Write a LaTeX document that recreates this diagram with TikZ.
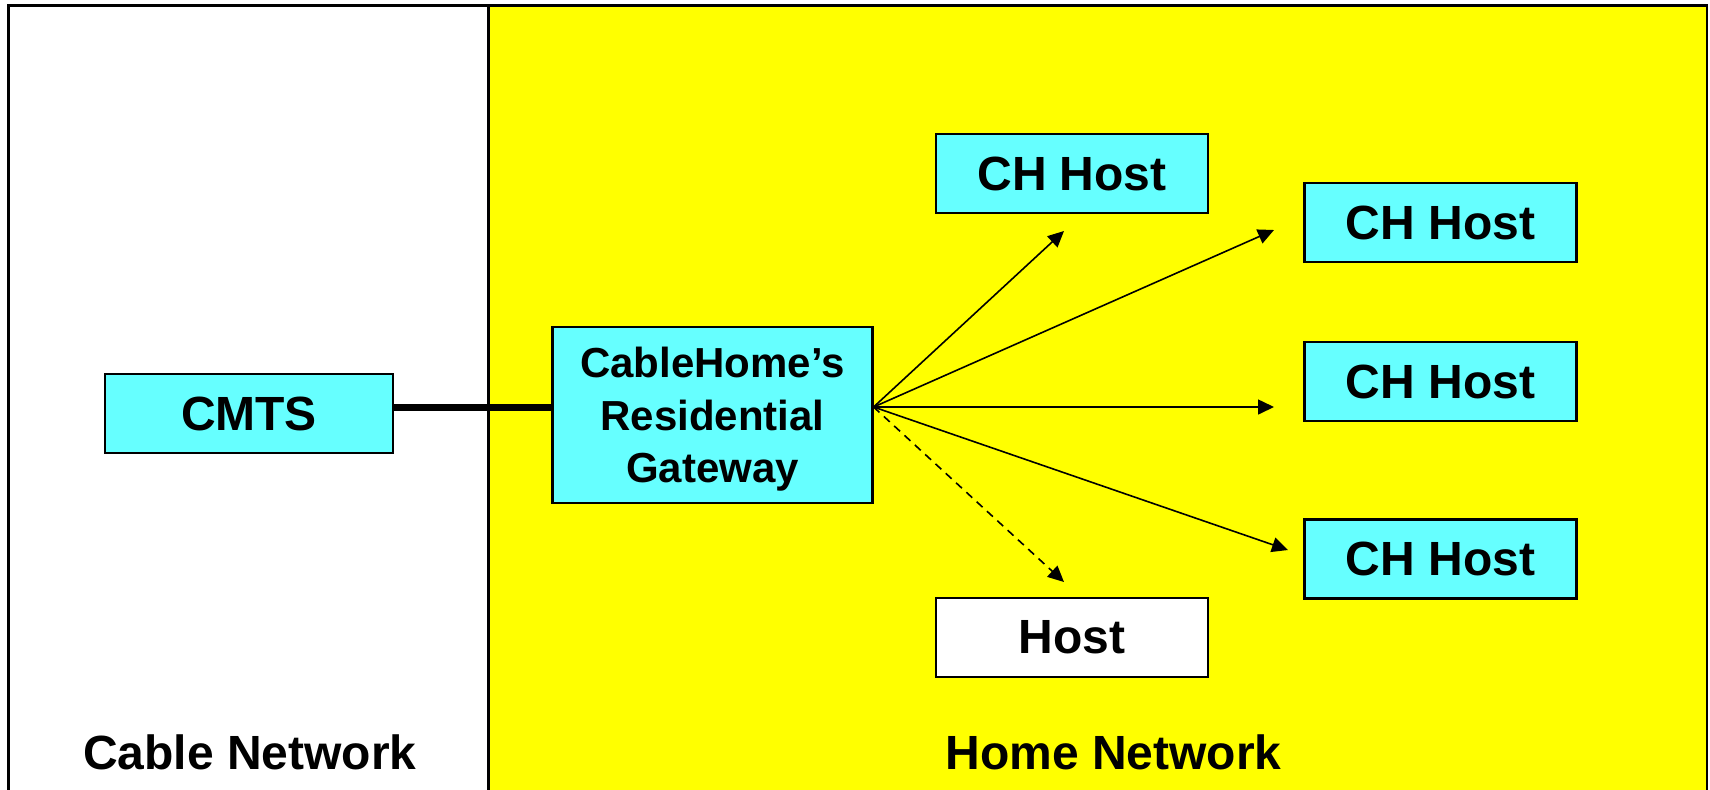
\documentclass[tikz,border=0pt]{standalone}
\usepackage{fontspec}
\setmainfont{Liberation Sans}
\usetikzlibrary{arrows.meta}
\definecolor{boxcyan}{HTML}{66FFFF}
\definecolor{homeyellow}{HTML}{FFFF00}
\begin{document}
\begin{tikzpicture}[x=0.5pt,y=-0.5pt,
  box/.style={draw=black, line width=1.1pt, fill=boxcyan, inner sep=0pt, font=\fontsize{24}{28}\selectfont\bfseries},
  hostbox/.style={box, minimum width=136pt, minimum height=39.5pt},
  link/.style={line width=0.8pt, -{Triangle[length=8pt,width=7.5pt]}},
  zonelabel/.style={font=\fontsize{24}{28}\selectfont\bfseries, anchor=base}
]
\useasboundingbox (0,0) rectangle (1710,789);
\clip (0,0) rectangle (1710,789);
\fill[homeyellow] (488.5,5.5) rectangle (1707,800);
\draw[line width=1.2pt] (8.5,800) -- (8.5,5.5) -- (1707,5.5) -- (1707,800);
\draw[line width=1.2pt] (488.5,5.5) -- (488.5,800);

\node[box, minimum width=144pt, minimum height=39.5pt] (cmts) at (249,413.5) {CMTS};
\node[box, minimum width=160pt, minimum height=88pt, align=center, text depth=0pt,
      font=\fontsize{21}{26.3}\selectfont\bfseries] (gw) at (712.5,415) {CableHome’s\\Residential\\Gateway};

\node[hostbox] (h1) at (1072,173.5) {CH Host};
\node[hostbox] (h2) at (1440.5,222.5) {CH Host};
\node[hostbox] (h3) at (1440.5,381.5) {CH Host};
\node[hostbox] (h4) at (1440.5,559) {CH Host};
\node[hostbox, fill=white] (host) at (1072,637.5) {Host};

\coordinate (hubrow) at (0,407);
\coordinate (hub) at (gw.east |- hubrow);
\coordinate (t1) at (1064,231);
\coordinate (t2) at (1274,230);
\coordinate (t3) at (1274,407);
\coordinate (t4) at (1288,550);
\coordinate (t5) at (1064,582);

\draw[line width=3.5pt] (cmts.east |- hubrow) -- (gw.west |- hubrow);
\draw[link] (hub) -- (t1);
\draw[link] (hub) -- (t2);
\draw[link] (hub) -- (t3);
\draw[link] (hub) -- (t4);
\draw[link, dash pattern=on 4pt off 3pt] (hub) -- (t5);

\node[zonelabel] (cablelbl) at (250,769) {Cable Network};
\node[zonelabel] (homelbl) at (1113.5,769) {Home Network};
\end{tikzpicture}
\end{document}
